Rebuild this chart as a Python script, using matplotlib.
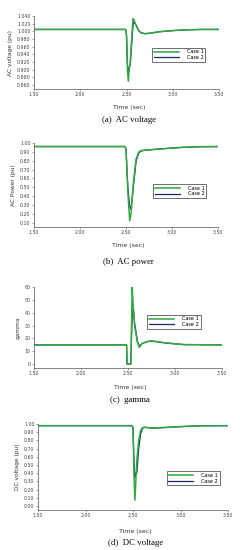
import matplotlib.pyplot as plt

# time axis per panel (sec) and the two cases
t_a = [1.50, 2.49, 2.50, 2.51, 2.52, 2.53, 2.54, 2.55, 2.57, 2.58, 2.60, 2.63, 2.66, 2.70, 2.75, 2.85, 3.00, 3.15, 3.30, 3.50]
ac_v_case1 = [1.005, 1.005, 0.990, 0.900, 0.870, 0.905, 0.915, 0.960, 1.033, 1.030, 1.018, 1.003, 0.996, 0.994, 0.995, 0.999, 1.002, 1.004, 1.005, 1.005]
ac_v_case2 = [1.005, 1.005, 0.992, 0.915, 0.895, 0.905, 0.915, 0.945, 1.015, 1.025, 1.018, 1.002, 0.996, 0.994, 0.995, 0.999, 1.002, 1.004, 1.005, 1.005]

t_b = [1.50, 2.49, 2.50, 2.52, 2.54, 2.555, 2.58, 2.61, 2.64, 2.67, 2.72, 2.90, 3.10, 3.30, 3.50]
ac_p_case1 = [0.96, 0.96, 0.93, 0.45, 0.12, 0.20, 0.55, 0.82, 0.90, 0.915, 0.92, 0.935, 0.95, 0.958, 0.96]
ac_p_case2 = [0.96, 0.96, 0.93, 0.50, 0.28, 0.25, 0.50, 0.80, 0.89, 0.912, 0.92, 0.935, 0.95, 0.958, 0.96]

t_c = [1.50, 2.485, 2.49, 2.53, 2.535, 2.545, 2.555, 2.57, 2.60, 2.62, 2.65, 2.70, 2.75, 2.80, 2.90, 3.00, 3.10, 3.50]
gamma_case1 = [15, 15, 0, 0, 20, 60, 45, 30, 17, 13, 16, 17.5, 18, 17.5, 16.5, 15.8, 15.2, 15]
gamma_case2 = [15, 15, 0, 0, 15, 40, 45, 32, 18, 14, 16, 17.5, 18, 17.5, 16.5, 15.8, 15.2, 15]

t_d = [1.50, 2.49, 2.50, 2.51, 2.52, 2.53, 2.54, 2.56, 2.58, 2.60, 2.62, 2.66, 2.70, 2.80, 3.00, 3.20, 3.50]
dc_v_case1 = [0.98, 0.98, 0.95, 0.40, 0.07, 0.30, 0.55, 0.80, 0.92, 0.955, 0.96, 0.955, 0.95, 0.955, 0.968, 0.978, 0.98]
dc_v_case2 = [0.98, 0.98, 0.95, 0.55, 0.35, 0.40, 0.40, 0.70, 0.88, 0.945, 0.96, 0.955, 0.95, 0.955, 0.968, 0.978, 0.98]

xticks = [1.50, 2.00, 2.50, 3.00, 3.50]
GREEN = "#2fa83f"
NAVY = "#1f2676"

W, H = 240, 550
fig = plt.figure(figsize=(W / 100, H / 100), dpi=100)


def make_axes(left, right, top, bottom):
    return fig.add_axes([left / W, 1 - bottom / H, (right - left) / W, (bottom - top) / H])


def draw_panel(box, t, y1, y2, ylim, yticks, yfmt, ylabel, caption, xlab_y, cap_y, leg_xy):
    left, right, top, bottom = box
    ax = make_axes(left, right, top, bottom)
    ax.plot(t, y2, color=NAVY, lw=0.9, label="Case 2")
    ax.plot(t, y1, color=GREEN, lw=1.1, label="Case 1")
    ax.set_xlim(1.50, 3.50)
    ax.set_ylim(*ylim)
    ax.set_xticks(xticks)
    ax.set_xticklabels(["%.2f" % v for v in xticks])
    ax.set_yticks(yticks)
    ax.set_yticklabels([yfmt % v for v in yticks])
    for s in ["top", "right"]:
        ax.spines[s].set_visible(False)
    for s in ["left", "bottom"]:
        ax.spines[s].set_linewidth(0.5)
        ax.spines[s].set_color("#555555")
    ax.tick_params(labelsize=3.4, length=1.5, width=0.4, pad=1, colors="#555555", labelcolor="#444444")
    ax.set_ylabel(ylabel, fontsize=4.2, color="#333333", labelpad=3)
    h, l = ax.get_legend_handles_labels()
    leg = ax.legend(h[::-1], l[::-1], loc="center right", bbox_to_anchor=leg_xy,
                    fontsize=3.6, frameon=True, fancybox=False, handlelength=5.0,
                    borderpad=0.35, labelspacing=0.15, handletextpad=1.6)
    leg.get_frame().set_edgecolor("black")
    leg.get_frame().set_linewidth(0.5)
    cx = (left + right) / 2 / W + 0.01
    fig.text(cx, 1 - xlab_y / H, "Time (sec)", ha="center", va="center",
             fontsize=4.4, color="#333333")
    fig.text(cx, 1 - cap_y / H, caption, ha="center", va="center",
             fontsize=6.3, family="Liberation Serif")
    return ax


draw_panel((34, 219, 16, 89), t_a, ac_v_case1, ac_v_case2, (0.850, 1.040),
           [0.86 + 0.02 * i for i in range(10)], "%.3f", "AC voltage (pu)",
           "(a)  AC voltage", 108, 120, (0.94, 0.47))

draw_panel((34, 218, 143, 227), t_b, ac_p_case1, ac_p_case2, (0.05, 1.00),
           [0.1 * i for i in range(1, 11)], "%.2f", "AC Power (pu)",
           "(b)  AC power", 245, 262, (0.95, 0.43))

draw_panel((34, 222, 287, 368), t_c, gamma_case1, gamma_case2, (-3, 60),
           [10 * i for i in range(7)], "%d", "gamma",
           "(c)  gamma", 388, 400, (0.90, 0.57))

draw_panel((38, 228, 424, 510), t_d, dc_v_case1, dc_v_case2, (-0.05, 1.00),
           [0.1 * i for i in range(11)], "%.2f", "DC voltage (pu)",
           "(d)  DC voltage", 531, 543, (0.97, 0.37))

fig.savefig("out.png", dpi=100)
